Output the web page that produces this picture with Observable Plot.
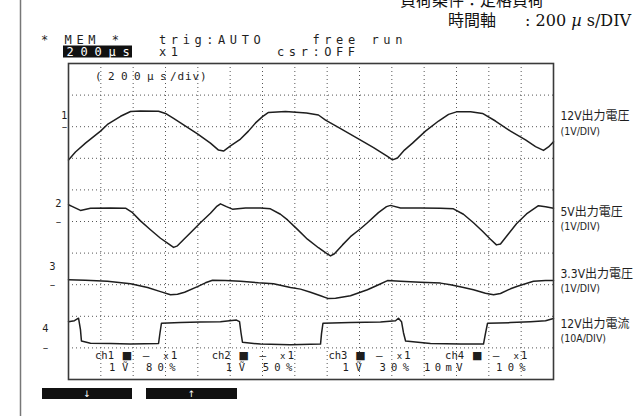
<!DOCTYPE html>
<html>
<head>
<meta charset="utf-8">
<script src="https://cdn.jsdelivr.net/npm/d3@7"></script>
<script src="https://cdn.jsdelivr.net/npm/@observablehq/plot@0.6"></script>
<style>
  html, body { margin: 0; padding: 0; background: #fff; }
  #chart svg { display: block; }
</style>
</head>
<body>
<div id="chart"></div>
<script>
// Scope capture: four channels over 15 divisions of 200 µs.
// Each trace is [time µs, value relative to the channel's ground marker] (V, or A for ch4).
const ch1Trace = [[0,-1.05],[43,-0.80],[105,-0.52],[198,-0.14],[241,0.07],[322,0.33],[384,0.48],[445,0.50],[557,0.49],[600,0.42],[650,0.26],[724,0.02],[798,-0.23],[878,-0.52],[928,-0.74],[959,-0.77],[1002,-0.61],[1064,-0.39],[1113,-0.14],[1157,0.12],[1200,0.32],[1237,0.45],[1342,0.48],[1472,0.43],[1546,0.37],[1590,0.21],[1683,-0.06],[1788,-0.37],[1887,-0.66],[1973,-0.94],[2004,-1.05],[2035,-0.99],[2078,-0.74],[2128,-0.52],[2208,-0.14],[2289,0.18],[2351,0.39],[2400,0.47],[2487,0.47],[2561,0.42],[2641,0.18],[2734,-0.14],[2827,-0.42],[2889,-0.63],[2938,-0.75],[2969,-0.64],[3000,-0.48]];
const ch2Trace = [[0,0.53],[25,0.47],[74,0.35],[136,0.42],[260,0.43],[353,0.42],[396,0.28],[445,0.02],[507,-0.26],[569,-0.53],[619,-0.71],[650,-0.82],[674,-0.77],[711,-0.58],[767,-0.29],[816,-0.04],[878,0.26],[915,0.47],[940,0.56],[977,0.47],[1014,0.39],[1095,0.43],[1188,0.43],[1249,0.40],[1311,0.23],[1355,0.05],[1416,-0.25],[1478,-0.56],[1546,-0.83],[1596,-1.01],[1621,-1.09],[1645,-1.02],[1695,-0.74],[1744,-0.48],[1806,-0.23],[1849,-0.04],[1917,0.28],[1967,0.47],[1992,0.51],[2054,0.43],[2177,0.43],[2301,0.42],[2381,0.40],[2443,0.23],[2505,-0.04],[2561,-0.31],[2610,-0.56],[2647,-0.74],[2672,-0.71],[2722,-0.39],[2771,-0.07],[2833,0.24],[2907,0.50],[2951,0.47],[3000,0.42]];
const ch3Trace = [[0,0.16],[105,0.14],[241,0.11],[384,0.03],[489,-0.09],[569,-0.22],[631,-0.32],[674,-0.30],[718,-0.24],[798,-0.06],[847,0.06],[891,0.14],[971,0.13],[1064,0.11],[1175,0.06],[1268,0.03],[1373,-0.09],[1435,-0.14],[1497,-0.24],[1559,-0.35],[1608,-0.44],[1652,-0.43],[1744,-0.35],[1849,-0.16],[1918,0.00],[1973,0.13],[2054,0.11],[2177,0.08],[2301,0.05],[2363,0.00],[2437,-0.08],[2505,-0.16],[2579,-0.27],[2629,-0.32],[2672,-0.28],[2734,-0.13],[2777,-0.05],[2876,0.11],[2951,0.13],[3000,0.13]];
const ch4Trace = [[0,8.3],[37,8.6],[62,9.4],[74,5.8],[80,2.2],[136,1.5],[260,1.4],[384,1.2],[557,1.4],[566,4.8],[575,7.8],[693,8.0],[816,8.2],[940,8.3],[1039,8.8],[1058,8.3],[1067,4.8],[1076,1.8],[1188,1.2],[1373,1.0],[1559,1.2],[1565,4.5],[1574,7.8],[1744,8.0],[1930,8.2],[2023,8.6],[2041,9.4],[2060,8.3],[2072,4.8],[2085,2.2],[2239,1.4],[2425,1.2],[2567,1.2],[2579,4.5],[2592,7.8],[2734,8.0],[2858,8.3],[2951,8.6],[3000,9.3]];

// Channel settings as shown on the scope
const channels      = ["ch1", "ch2", "ch3", "ch4"];
const channelTitles = ["12V出力電圧", "5V出力電圧", "3.3V出力電圧", "12V出力電流"];
const channelScales = ["(1V/DIV)", "(1V/DIV)", "(1V/DIV)", "(10A/DIV)"];
const unitsPerDiv   = [1, 1, 1, 10];
const positionPct   = [80, 50, 30, 10];
const probeRange    = ["1Ṽ", "1Ṽ", "1Ṽ", "10mV"];
const magnification = ["1", "1", "1", "1"];

// Screen status texts
const statusLine1 = "* MEM *   trig:AUTO    free run";
const statusLine2 = "x1        csr:OFF";
const timebaseBox = "200µs";
const timebaseNote = ["(200µs", "/div)"];
const conditionLine = "負荷条件：定格負荷";
const timeAxisLabel = "時間軸";
const timeAxisValue = [": 200 ", "µ", " s/DIV"];
const softKeys = ["↓", "↑"];

const DIVS_X = 15, DIVS_Y = 10, US_PER_DIV = 200;
const W = 636, H = 416;
const M = {left: 68, right: 83, top: 63, bottom: 37};

const traces = [ch1Trace, ch2Trace, ch3Trace, ch4Trace];
const rows = traces.flatMap((tr, i) => tr.map(([t, v]) => ({
  ch: channels[i],
  t,
  div: positionPct[i] * DIVS_Y / 100 + v / unitsPerDiv[i]
})));

const scopeFont = "'DejaVu Sans Mono', monospace";
const labelFont = "'DejaVu Sans Condensed', 'Noto Sans CJK JP', sans-serif";
const ink = "#1e1e1e";

// per-channel placement of the side annotations (pixels)
const markerX  = [64, 58, 52, 45];
const numberDy = [-11, -18, -18, -19];
const titleDy  = [-10.5, -9, -11, -23.5];
const scaleDy  = [4.5, 5, 4, -9.5];

const marks = [
  Plot.ruleX(d3.range(1, DIVS_X).map(i => i * US_PER_DIV), {stroke: "#555", strokeWidth: 1, strokeDasharray: "1,3"}),
  Plot.ruleY(d3.range(1, DIVS_Y), {stroke: "#555", strokeWidth: 1, strokeDasharray: "1,3"}),
  Plot.line(rows, {x: "t", y: "div", z: "ch", stroke: ink, strokeWidth: 1.5, strokeLinejoin: "round"}),
  Plot.frame({stroke: "#3a3a3a", strokeWidth: 1.6})
];

channels.forEach((c, i) => {
  const ref = positionPct[i] * DIVS_Y / 100;
  // channel number and ground marker on the left
  marks.push(Plot.text([String(i + 1)], {x: 0, y: ref, text: d => d, dx: markerX[i] - M.left, dy: numberDy[i], fontFamily: labelFont, fontSize: 11, fill: ink}));
  marks.push(Plot.text(["–"], {x: 0, y: ref, text: d => d, dx: markerX[i] - M.left, dy: 0, fontFamily: "'DejaVu Sans', sans-serif", fontSize: 11, fill: ink}));
  // channel description on the right
  marks.push(Plot.text([channelTitles[i]], {x: DIVS_X * US_PER_DIV, y: ref, text: d => d, dx: 7, dy: titleDy[i], textAnchor: "start", fontFamily: labelFont, fontSize: 12, fill: ink}));
  marks.push(Plot.text([channelScales[i]], {x: DIVS_X * US_PER_DIV, y: ref, text: d => d, dx: 7, dy: scaleDy[i], textAnchor: "start", fontFamily: labelFont, fontSize: 10.5, fill: ink}));
});

const chart = Plot.plot({
  width: W, height: H,
  marginLeft: M.left, marginRight: M.right, marginTop: M.top, marginBottom: M.bottom,
  x: {domain: [0, DIVS_X * US_PER_DIV], axis: null},
  y: {domain: [0, DIVS_Y], axis: null},
  style: {background: "#fff", overflow: "visible"},
  marks
});
document.getElementById("chart").append(chart);

const svg = d3.select(chart);

// scope screen text in a fixed-pitch font
function screenText(g, x, y, str, o = {}) {
  return g.append("text")
    .attr("x", x).attr("y", y).attr("dy", "0.35em")
    .attr("text-anchor", o.anchor || "start")
    .attr("fill", o.fill || ink)
    .attr("font-family", o.family || scopeFont)
    .attr("font-size", o.size || 12)
    .attr("letter-spacing", (o.spacing || 0) + "px")
    .text(str);
}

// page rule on the left edge
svg.insert("line", ":first-child")
  .attr("x1", 20.5).attr("x2", 20.5).attr("y1", 0).attr("y2", H)
  .attr("stroke", "#777").attr("stroke-width", 1.5);

// status lines above the graticule (fixed 11.8px character cells)
const status = svg.append("g");
const CELL = 11.8, COL0 = 41;
status.append("rect").attr("x", 63).attr("y", 45.5).attr("width", 69).attr("height", 12).attr("fill", "#111");
screenText(status, COL0, 39.5, statusLine1, {spacing: CELL - 7.22});
screenText(status, COL0 + 10 * CELL, 51.5, statusLine2, {spacing: CELL - 7.22});
screenText(status, 66.5, 51.5, timebaseBox, {spacing: 6.8, fill: "#fff"});

// timebase note in the graticule
screenText(status, 95, 76.5, timebaseNote[0], {size: 11, spacing: 6.4});
screenText(status, 170, 76.5, timebaseNote[1], {size: 11, spacing: 0.9});

// channel settings inside the bottom of the graticule
const info = svg.append("g");
channels.forEach((c, i) => {
  const b = 95 + i * 116.7;
  screenText(info, b, 355, c, {size: 10.5});
  screenText(info, b + 32, 355, "■", {size: 11, anchor: "middle", family: "'DejaVu Sans', sans-serif"});
  screenText(info, b + 51, 355, "–", {size: 11, anchor: "middle"});
  screenText(info, b + 71, 356, "x", {size: 9, anchor: "middle"});
  screenText(info, b + 79, 355, magnification[i], {size: 11, anchor: "middle"});
  if (probeRange[i].length > 2) screenText(info, b - 21, 367, probeRange[i], {size: 10.5, spacing: 4.4});
  else screenText(info, b + 14, 367, probeRange[i], {size: 10.5, spacing: 6.8});
  screenText(info, b + 51, 367, `${positionPct[i]}%`, {size: 10.5, spacing: 5.3});
});

// soft keys below the graticule
const keys = svg.append("g");
[[42, 90], [146, 91]].forEach(([x, w], i) => {
  keys.append("rect").attr("x", x).attr("y", 388).attr("width", w).attr("height", 11).attr("fill", "#111");
  screenText(keys, x + w / 2, 393.5, softKeys[i], {size: 9, anchor: "middle", fill: "#fff", family: "'DejaVu Sans', sans-serif"});
});

// test conditions, top right
const cjk = "'Noto Sans CJK JP', sans-serif";
const serif = "'DejaVu Serif', 'Liberation Serif', serif";
const note = svg.append("g").attr("fill", "#111");
note.append("text").attr("x", 472).attr("y", 5.5).attr("font-family", cjk).attr("font-size", 16).text(conditionLine);
note.append("text").attr("x", 472).attr("y", 26).attr("font-family", cjk).attr("font-size", 16).text(timeAxisLabel);
const tv = note.append("text").attr("x", 631).attr("y", 26).attr("text-anchor", "end")
  .attr("font-family", serif).attr("font-size", 16);
tv.append("tspan").text(timeAxisValue[0]);
tv.append("tspan").attr("font-style", "italic").text(timeAxisValue[1]);
tv.append("tspan").text(timeAxisValue[2]);
</script>
</body>
</html>
